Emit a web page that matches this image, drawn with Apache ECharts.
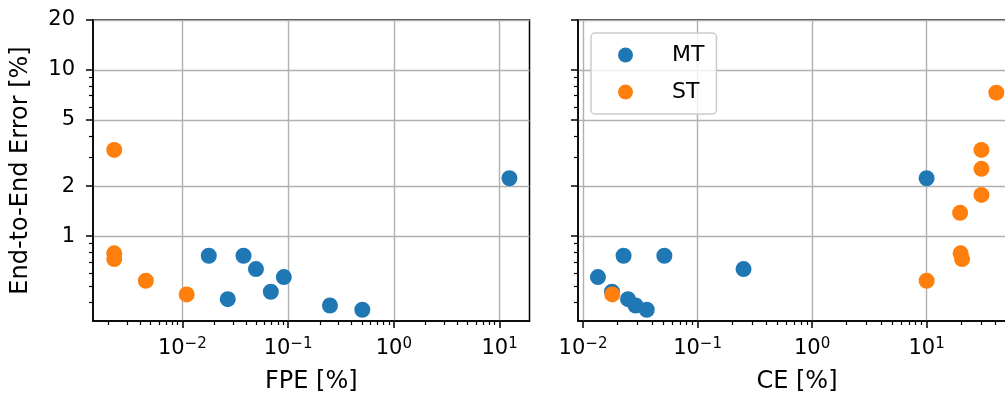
<!DOCTYPE html>
<html><head><meta charset="utf-8">
<script src="https://cdn.jsdelivr.net/npm/echarts@6/dist/echarts.min.js"></script>
<style>html,body{margin:0;padding:0;background:#fff}#c{width:1005px;height:396px}</style>
</head><body><div id="c"></div>
<script>
// ---- data ----
const seriesNames = ['MT', 'ST'];
// MT (blue)
const errMT = [0.761, 0.417, 0.761, 0.633, 0.462, 0.566, 0.382, 0.360, 2.23];
const fpeMT = [0.0178, 0.0269, 0.0379, 0.0497, 0.0687, 0.0912, 0.249, 0.504, 12.4];
const ceMT  = [0.0226, 0.0247, 0.0513, 0.252, 0.0179, 0.0135, 0.0288, 0.0360, 10.0];
// ST (orange)  (null = not shown on the FPE panel)
const errST = [3.30, 0.787, 0.727, 0.538, 0.445, 1.38, 1.77, 2.54, 7.30];
const fpeST = [0.00227, 0.00227, 0.00227, 0.00452, 0.0110, null, null, null, null];
const ceST  = [30.1, 19.8, 20.4, 10.0, 0.0180, 19.6, 30.1, 30.1, 40.6];

// ---- ticks ----
const yMajorTicks = [1, 2, 5, 10, 20];
const yMinorTicks = [0.4, 0.5, 0.6, 0.7, 0.8, 0.9, 3, 4, 6, 7, 8, 9];
const xMajorTicks = [0.01, 0.1, 1, 10];
const fpeMinorTicks = [0.002,0.003,0.004,0.005,0.006,0.007,0.008,0.009,
  0.02,0.03,0.04,0.05,0.06,0.07,0.08,0.09,0.2,0.3,0.4,0.5,0.6,0.7,0.8,0.9,2,3,4,5,6,7,8,9];
const ceMinorTicks = [0.02,0.03,0.04,0.05,0.06,0.07,0.08,0.09,
  0.2,0.3,0.4,0.5,0.6,0.7,0.8,0.9,2,3,4,5,6,7,8,9,20,30,40,50];
const axisNames = {fpe: 'FPE [%]', ce: 'CE [%]', err: 'End-to-End Error [%]'};
const yRange = [0.308, 20];
const fpeRange = [0.00143, 19.2];
const ceRange = [0.00904, 60.3];

const FONT = 'DejaVu Sans';
const BLUE = '#1f77b4', ORANGE = '#ff7f0e';
const GRIDC = '#b0b0b0';
const TICKFS = 21, NAMEFS = 24, LEGFS = 22;

function supLabel(v) {
  const e = Math.round(Math.log10(v));
  return '{b|10}{s|' + (e < 0 ? '\u2212' + (-e) : String(e)) + '}';
}
const supRich = {
  b: {fontFamily: FONT, fontSize: TICKFS, color: '#000', lineHeight: 24},
  s: {fontFamily: FONT, fontSize: 15, color: '#000', lineHeight: 15, verticalAlign: 'top'}
};

function majorX(gi, range, name) {
  return {
    type: 'log', logBase: 10, gridIndex: gi, position: 'bottom', min: range[0], max: range[1],
    axisLine: {show: true, onZero: false, lineStyle: {color: '#000', width: 1.5}},
    axisTick: {show: true, customValues: xMajorTicks, length: 7, lineStyle: {color: '#000', width: 1.5}},
    axisLabel: {show: true, customValues: xMajorTicks, formatter: supLabel, rich: supRich, margin: 16},
    splitLine: {show: true, lineStyle: {color: GRIDC, width: 1.4}},
    minorTick: {show: false}, minorSplitLine: {show: false},
    name: name, nameLocation: 'middle', nameGap: 49,
    nameTextStyle: {fontFamily: FONT, fontSize: NAMEFS, color: '#000'}
  };
}
function minorX(gi, range, ticks) {
  return {
    type: 'log', logBase: 10, gridIndex: gi, position: 'bottom', min: range[0], max: range[1],
    axisLine: {show: false, onZero: false},
    axisTick: {show: true, customValues: ticks, length: 4, lineStyle: {color: '#000', width: 1.2}},
    axisLabel: {show: false}, splitLine: {show: false}
  };
}
function majorY(gi, showLabels, name) {
  return {
    type: 'log', logBase: 10, gridIndex: gi, position: 'left', min: yRange[0], max: yRange[1],
    axisLine: {show: true, onZero: false, lineStyle: {color: '#000', width: 1.5}},
    axisTick: {show: true, customValues: yMajorTicks, length: 7, lineStyle: {color: '#000', width: 1.5}},
    axisLabel: {show: showLabels, customValues: yMajorTicks, margin: 18,
      fontFamily: FONT, fontSize: TICKFS, color: '#000', formatter: v => String(Math.round(v))},
    splitLine: {show: true, lineStyle: {color: GRIDC, width: 1.4}},
    name: name, nameLocation: 'middle', nameGap: 60, nameRotate: 90,
    nameTextStyle: {fontFamily: FONT, fontSize: NAMEFS, color: '#000'}
  };
}
function minorY(gi) {
  return {
    type: 'log', logBase: 10, gridIndex: gi, position: 'left', min: yRange[0], max: yRange[1],
    axisLine: {show: false, onZero: false},
    axisTick: {show: true, customValues: yMinorTicks, length: 4, lineStyle: {color: '#000', width: 1.2}},
    axisLabel: {show: false}, splitLine: {show: false}
  };
}
function pairs(xs, ys) {
  const out = [];
  for (let i = 0; i < xs.length; i++) if (xs[i] != null) out.push([xs[i], ys[i]]);
  return out;
}
function scatter(name, xi, yi, data, color) {
  return {
    type: 'scatter', name: name, xAxisIndex: xi, yAxisIndex: yi, data: data,
    symbol: 'circle', symbolSize: 16, itemStyle: {color: color, opacity: 1},
    emphasis: {disabled: true}, silent: true
  };
}

const chart = echarts.init(document.getElementById('c'), null, {renderer: 'canvas'});
chart.setOption({
  animation: false,
  backgroundColor: '#fff',
  textStyle: {fontFamily: FONT},
  grid: [
    {left: 93, top: 20, width: 436.5, height: 301, outerBoundsMode: 'none', containLabel: false,
     show: true, borderColor: '#000', borderWidth: 1.5, backgroundColor: 'transparent'},
    {left: 578, top: 20, width: 438, height: 301, outerBoundsMode: 'none', containLabel: false,
     show: true, borderColor: '#000', borderWidth: 1.5, backgroundColor: 'transparent'}
  ],
  xAxis: [
    majorX(0, fpeRange, axisNames.fpe), minorX(0, fpeRange, fpeMinorTicks),
    majorX(1, ceRange, axisNames.ce), minorX(1, ceRange, ceMinorTicks)
  ],
  yAxis: [
    majorY(0, true, axisNames.err), minorY(0),
    majorY(1, false, ''), minorY(1)
  ],
  legend: {
    show: true, orient: 'vertical', left: 591, top: 33,
    data: seriesNames,
    icon: 'circle', itemWidth: 15, itemHeight: 15, itemGap: 15,
    padding: [11, 12, 11, 27],
    backgroundColor: 'rgba(255,255,255,0.8)', borderColor: '#cccccc', borderWidth: 1.5, borderRadius: 4,
    textStyle: {fontFamily: FONT, fontSize: LEGFS, color: '#000', padding: [0, 0, 0, 34]},
    selectedMode: false
  },
  series: [
    scatter(seriesNames[0], 0, 0, pairs(fpeMT, errMT), BLUE),
    scatter(seriesNames[0], 2, 2, pairs(ceMT, errMT), BLUE),
    scatter(seriesNames[1], 0, 0, pairs(fpeST, errST), ORANGE),
    scatter(seriesNames[1], 2, 2, pairs(ceST, errST), ORANGE)
  ]
});
</script></body></html>
